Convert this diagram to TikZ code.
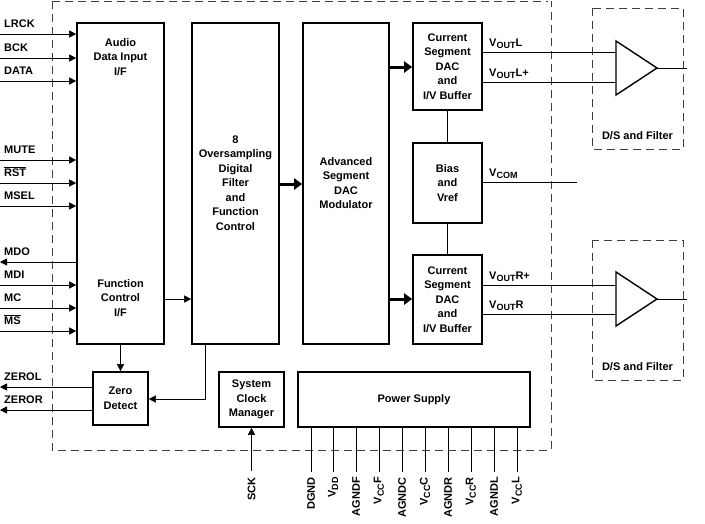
\documentclass[tikz,border=0pt]{standalone}
\usepackage{fontspec}
\setmainfont{Liberation Sans}
\usetikzlibrary{arrows.meta}
\newcommand{\sbx}[1]{\raisebox{-2.5pt}{\fontsize{9}{9}\selectfont #1}}
\begin{document}
\begin{tikzpicture}[x=1pt,y=-1pt,
  blk/.style={draw,line width=1.6pt,inner sep=0pt},
  t/.style={font=\fontsize{11}{14.5}\selectfont\bfseries,align=center,inner sep=0pt},
  lbl/.style={font=\fontsize{11}{12}\selectfont\bfseries,inner sep=0pt},
  sig/.style={line width=0.5pt},
  ar/.style={sig,-{Triangle[length=7pt,width=7pt]}},
  big/.style={line width=3pt,-{Triangle[length=8pt,width=11pt]}},
  dsh/.style={dashed,dash pattern=on 8pt off 5pt,line width=0.6pt,black!75}]
\useasboundingbox (0,0) rectangle (705,523);
% dashed boxes
\draw[dsh] (52,1) -- (548,1);
\draw[dsh] (52,1) -- (52,450) -- (551,450) -- (551,1);
\draw[dsh] (592,8) rectangle (683,149);
\draw[dsh] (592,240) rectangle (683,380);
% blocks
\node[blk,minimum width=87pt,minimum height=321pt] (aud) at (120.5,183.5) {};
\node[t] at (120.5,57) {Audio\\Data Input\\I/F};
\node[t] at (120.5,298) {Function\\Control\\I/F};
\node[blk,minimum width=87pt,minimum height=321pt] (ovs) at (235.5,183.5) {};
\node[t] at (235.5,183) {8\\Oversampling\\Digital\\Filter\\and\\Function\\Control};
\node[blk,minimum width=86pt,minimum height=321pt] (adv) at (346,183.5) {};
\node[t] at (346,183) {Advanced\\Segment\\DAC\\Modulator};
\node[blk,minimum width=69pt,minimum height=87pt,t] (csl) at (447.5,66.5) {Current\\Segment\\DAC\\and\\I/V Buffer};
\node[blk,minimum width=69pt,minimum height=80pt,t] (bias) at (447.5,183) {Bias\\and\\Vref};
\node[blk,minimum width=69pt,minimum height=89pt,t] (csr) at (447.5,299.5) {Current\\Segment\\DAC\\and\\I/V Buffer};
\node[blk,minimum width=55pt,minimum height=53pt,t] (zd) at (120.5,398.5) {Zero\\Detect};
\node[blk,minimum width=65pt,minimum height=55pt,t] (scm) at (251.5,399.5) {System\\Clock\\Manager};
\node[blk,minimum width=232pt,minimum height=55pt,t] (ps) at (414,399.5) {Power Supply};
% internal
\draw[sig] (csl.south) -- (bias.north);
\draw[sig] (bias.south) -- (csr.north);
\draw[big] (adv.east |- 0,67) -- (csl.west |- 0,67);
\draw[big] (adv.east |- 0,299) -- (csr.west |- 0,299);
\draw[big] (ovs.east |- 0,184) -- (adv.west |- 0,184);
\draw[ar] (aud.east |- 0,299) -- (ovs.west |- 0,299);
\draw[ar] (aud.south) -- (zd.north);
\draw[ar] (205,344) -- (205,399) -- (zd.east |- 0,399);
% left pins
\foreach \y/\n in {34/LRCK,58/BCK,81/DATA,160/MUTE,183/$\overline{\mbox{RST}}$,206/MSEL,285/MDI,308/MC,331/$\overline{\mbox{MS}}$}{
  \coordinate (p\y) at (0,\y);
  \draw[ar] (p\y) -- (aud.west |- p\y);
  \node[lbl,anchor=south west] at (4,\y-6) {\n};}
\coordinate (pmdo) at (0,262);
\draw[ar] (aud.west |- pmdo) -- (pmdo);
\node[lbl,anchor=south west] at (4,256) {MDO};
\coordinate (pzl) at (0,387); \coordinate (pzr) at (0,410);
\draw[ar] (zd.west |- pzl) -- (pzl);
\draw[ar] (zd.west |- pzr) -- (pzr);
\node[lbl,anchor=south west] at (4,381) {ZEROL};
\node[lbl,anchor=south west] at (4,404) {ZEROR};
% SCK
\coordinate (sck) at (251.5,471);
\draw[ar] (sck) -- (scm.south);
\node[lbl,rotate=90,anchor=east] at (251.5,477) {SCK};
% power pins
\foreach \x/\n in {311/DGND,333/V\sbx{DD},356/AGNDF,379/V\sbx{CC}F,402/AGNDC,425/V\sbx{CC}C,448/AGNDR,471/V\sbx{CC}R,494/AGNDL,517/V\sbx{CC}L}{
  \coordinate (q\x) at (\x,472);
  \draw[sig] (ps.south -| q\x) -- (q\x);
  \node[lbl,rotate=90,anchor=east] at (\x,477) {\n};}
% outputs
\draw[line width=1.4pt] (616,41) -- (657,68) -- (616,95) -- cycle;
\draw[line width=1.4pt] (616,272) -- (657,299) -- (616,326) -- cycle;
\coordinate (ol) at (687,68); \coordinate (or) at (687,299);
\draw[sig] (657,68) -- (ol); \draw[sig] (657,299) -- (or);
\draw[sig] (csl.east |- 0,52) -- (616,52);
\draw[sig] (csl.east |- 0,82) -- (616,82);
\draw[sig] (csr.east |- 0,285) -- (616,285);
\draw[sig] (csr.east |- 0,314) -- (616,314);
\coordinate (vc) at (577,182);
\draw[sig] (bias.east |- vc) -- (vc);
\node[lbl,anchor=base west] at (489,46) {V\sbx{OUT}L};
\node[lbl,anchor=base west] at (489,76) {V\sbx{OUT}L+};
\node[lbl,anchor=base west] at (489,279) {V\sbx{OUT}R+};
\node[lbl,anchor=base west] at (489,308) {V\sbx{OUT}R};
\node[lbl,anchor=base west] at (489,176) {V\sbx{COM}};
\node[lbl] at (637.5,136) {D/S and Filter};
\node[lbl] at (637.5,367) {D/S and Filter};
\end{tikzpicture}
\end{document}
